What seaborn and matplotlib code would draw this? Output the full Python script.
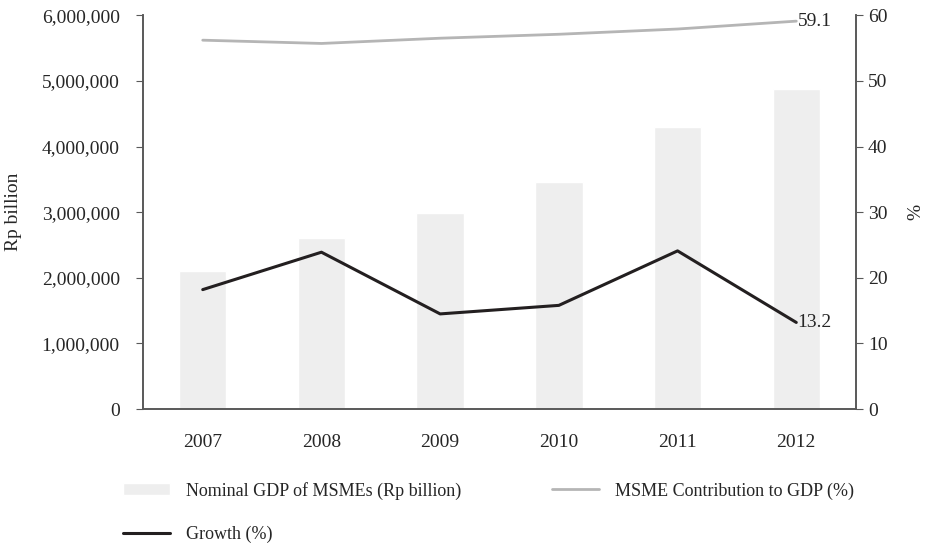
import numpy as np
import pandas as pd
import matplotlib
matplotlib.use("Agg")
import matplotlib.pyplot as plt
import matplotlib.ticker as mticker
import seaborn as sns

years = [2007, 2008, 2009, 2010, 2011, 2012]
gdp_msme = [2107868, 2609364, 2993152, 3466393, 4303572, 4869568]
contribution = [56.2, 55.7, 56.5, 57.1, 57.9, 59.1]
growth = [18.2, 23.9, 14.5, 15.8, 24.1, 13.2]

df = pd.DataFrame({"year": years, "gdp": gdp_msme,
                   "contribution": contribution, "growth": growth})

sns.set_style("white")
plt.rcParams["font.family"] = ["Liberation Serif", "DejaVu Serif"]
plt.rcParams["font.size"] = 13

fig = plt.figure(figsize=(9.25, 5.44), dpi=100)
ax = fig.add_axes([0.155, 0.248, 0.77, 0.724])
ax2 = ax.twinx()

sns.barplot(data=df, x="year", y="gdp", native_scale=True, width=0.4,
            color="#eeeeee", saturation=1, ax=ax,
            label="Nominal GDP of MSMEs (Rp billion)", legend=False)
sns.lineplot(data=df, x="year", y="contribution", color="#b5b5b5",
             linewidth=2, ax=ax2, label="MSME Contribution to GDP (%)",
             legend=False)
sns.lineplot(data=df, x="year", y="growth", color="#231f20",
             linewidth=2.2, ax=ax2, label="Growth (%)", legend=False)
if ax.get_legend() is not None:
    ax.get_legend().remove()

ax.set_xlim(2006.5, 2012.5)
ax.set_ylim(0, 6000000)
ax.set_yticks(np.arange(0, 6000001, 1000000))
ax.yaxis.set_major_formatter(mticker.FuncFormatter(lambda v, p: f"{v:,.0f}"))
ax.set_xticks(years)
ax.set_xticklabels([str(y) for y in years])
ax2.set_ylim(0, 60)
ax2.set_yticks(np.arange(0, 61, 10))

ax.set_xlabel("")
ax.set_ylabel("Rp billion", fontsize=14, labelpad=14)
ax2.set_ylabel("%", fontsize=14, labelpad=14)

spine_c = "#595959"
for a in (ax, ax2):
    a.spines["top"].set_visible(False)
    for s in ("left", "right", "bottom"):
        a.spines[s].set_color(spine_c)
        a.spines[s].set_linewidth(1.2)
ax.tick_params(axis="y", direction="out", length=5, color=spine_c, labelsize=14, pad=12)
ax.tick_params(axis="x", length=0, labelsize=14, pad=18)
ax2.tick_params(axis="y", direction="out", length=5, color=spine_c, labelsize=14, pad=4)
ax.grid(False)
ax2.grid(False)

ax2.annotate(f"{contribution[-1]}", (years[-1], contribution[-1]),
             xytext=(1, 0), textcoords="offset points", ha="left", va="center",
             fontsize=14)
ax2.annotate(f"{growth[-1]}", (years[-1], growth[-1]),
             xytext=(1, 0), textcoords="offset points", ha="left", va="center",
             fontsize=14)

h1, l1 = ax.get_legend_handles_labels()
h2, l2 = ax2.get_legend_handles_labels()
handles = [h1[0], h2[1], h2[0]]
labels = [l1[0], l2[1], l2[0]]
fig.legend(handles, labels, loc="upper left", bbox_to_anchor=(0.125, 0.128),
           ncol=2, frameon=False, fontsize=13, handlelength=2.6,
           handletextpad=0.9, columnspacing=5.0, labelspacing=1.45,
           borderaxespad=0)

fig.savefig("out.png", dpi=100)
